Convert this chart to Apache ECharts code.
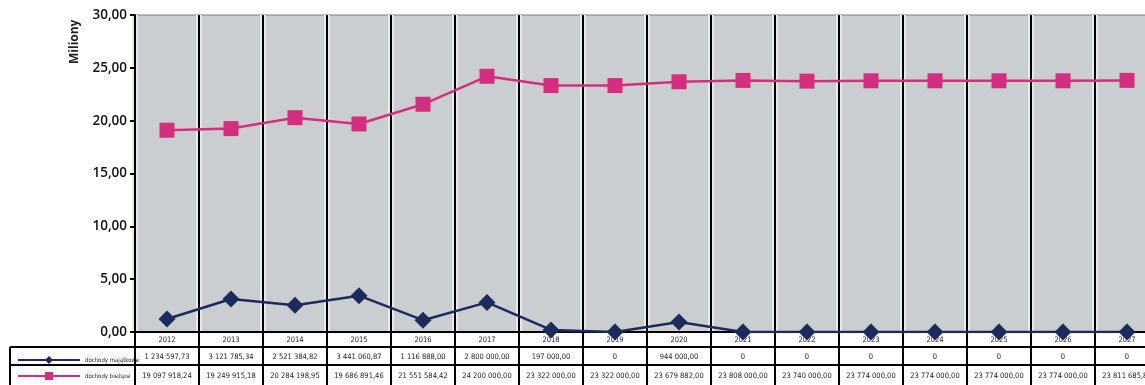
<!DOCTYPE html>
<html>
<head>
<meta charset="utf-8">
<script src="https://cdn.jsdelivr.net/npm/echarts@6/dist/echarts.min.js"></script>
<style>
  html, body { margin: 0; padding: 0; background: #fff; overflow: hidden; }
  #chart { width: 1159px; height: 385px; }
</style>
</head>
<body>
<div id="chart"></div>
<script>
// lata
const Years = ['2012', '2013', '2014', '2015', '2016', '2017', '2018', '2019',
  '2020', '2021', '2022', '2023', '2024', '2025', '2026', '2027'];
// dochody majątkowe (zł)
const Majatkowe = [1234597.73, 3121785.34, 2521384.82, 3441060.87, 1116888.00, 2800000.00,
  197000.00, 0, 944000.00, 0, 0, 0, 0, 0, 0, 0];
// dochody bieżące (zł)
const Biezace = [19097918.24, 19249915.18, 20284198.95, 19686891.46, 21551584.42, 24200000.00,
  23322000.00, 23322000.00, 23679882.00, 23808000.00, 23740000.00, 23774000.00,
  23774000.00, 23774000.00, 23774000.00, 23811685.85];
const YTicks = [0, 5, 10, 15, 20, 25, 30];

const NAVY = '#1d2b5c';
const PINK = '#d42f7f';
const FONT = '"Open Sans", "DejaVu Sans", sans-serif';
const COND = '"DejaVu Sans Condensed", "Liberation Sans Narrow", "DejaVu Sans", sans-serif';

function fmtPL(v) {
  if (v === 0) return '0';
  const parts = v.toFixed(2).split('.');
  return parts[0].replace(/\B(?=(\d{3})+(?!\d))/g, ' ') + ',' + parts[1];
}

function renderChart() {
  const dom = document.getElementById('chart');
  const chart = echarts.init(dom);
  const cellLabel = {
    interval: 0,
    fontFamily: COND,
    fontSize: 7.5,
    color: '#222',
  };
  const option = {
    animation: false,
    textStyle: { fontFamily: FONT },
    grid: {
      left: 135,
      right: 0,
      top: 15,
      bottom: 53,
      show: true,
      backgroundColor: '#cbced1',
      borderColor: '#7a7a7a',
      borderWidth: 1,
    },
    legend: {
      data: ['dochody majątkowe', 'dochody bieżące'],
      orient: 'vertical',
      left: 12,
      top: 351,
      itemWidth: 62,
      itemHeight: 10,
      itemGap: 8,
      textStyle: { fontSize: 6, color: '#222', fontFamily: COND, width: 60, overflow: 'none' },
    },
    graphic: [
      { type: 'line', shape: { x1: 10, y1: 347, x2: 135, y2: 347 }, style: { stroke: '#000', lineWidth: 2 } },
      { type: 'line', shape: { x1: 10, y1: 365, x2: 135, y2: 365 }, style: { stroke: '#000', lineWidth: 2 } },
      { type: 'line', shape: { x1: 10, y1: 347, x2: 10, y2: 385 }, style: { stroke: '#000', lineWidth: 2 } },
      {
        type: 'text', x: 69, y: 64, rotation: Math.PI / 2,
        style: { text: 'Miliony', fontSize: 12, fontWeight: 'bold', fill: '#222', fontFamily: FONT },
      },
    ],
    xAxis: [
      {
        type: 'category',
        data: Years,
        position: 'bottom',
        boundaryGap: true,
        z: 2,
        axisLine: { lineStyle: { color: '#000', width: 2 } },
        axisTick: { show: true, length: 53, interval: 0, lineStyle: { color: '#000', width: 2 } },
        axisLabel: Object.assign({ margin: 4 }, cellLabel),
        splitLine: { show: true, interval: 0, lineStyle: { color: '#000', width: 2 } },
      },
      {
        type: 'category',
        data: Majatkowe.map(fmtPL),
        position: 'bottom',
        offset: 15,
        axisLine: { lineStyle: { color: '#000', width: 2 } },
        axisTick: { show: false },
        axisLabel: Object.assign({ margin: 6 }, cellLabel),
      },
      {
        type: 'category',
        data: Biezace.map(fmtPL),
        position: 'bottom',
        offset: 33,
        axisLine: { lineStyle: { color: '#000', width: 2 } },
        axisTick: { show: false },
        axisLabel: Object.assign({ margin: 7 }, cellLabel),
      },
      {
        // jasne pasy przy liniach podziału
        type: 'category',
        data: Years,
        position: 'top',
        z: 1,
        axisLine: { show: false },
        axisTick: { show: false },
        axisLabel: { show: false },
        splitLine: { show: true, interval: 0, lineStyle: { color: '#e6e8ea', width: 6 } },
      },
    ],
    yAxis: [
      {
        type: 'value',
        min: YTicks[0],
        max: YTicks[YTicks.length - 1],
        interval: 5,
        z: 2,
        axisLine: { show: true, lineStyle: { color: '#000', width: 2 } },
        axisTick: { show: true, length: 5, lineStyle: { color: '#000', width: 2 } },
        axisLabel: {
          fontFamily: FONT,
          fontSize: 13.5,
          fontWeight: 600,
          color: '#111',
          margin: 8,
          formatter: v => v.toFixed(2).replace('.', ','),
        },
        splitLine: { show: false },
      }
    ],
    series: [
      {
        name: 'dochody majątkowe',
        type: 'line',
        xAxisIndex: 0,
        data: Majatkowe.map(v => v / 1e6),
        symbol: 'diamond',
        symbolSize: 17,
        lineStyle: { color: NAVY, width: 2.5 },
        itemStyle: { color: NAVY },
        z: 3,
      },
      {
        name: 'dochody bieżące',
        type: 'line',
        xAxisIndex: 0,
        data: Biezace.map(v => v / 1e6),
        symbol: 'rect',
        symbolSize: 15,
        lineStyle: { color: PINK, width: 2.5 },
        itemStyle: { color: PINK },
        z: 3,
      },
    ]
  };
  chart.setOption(option, true);
}
renderChart();
</script>
</body>
</html>
